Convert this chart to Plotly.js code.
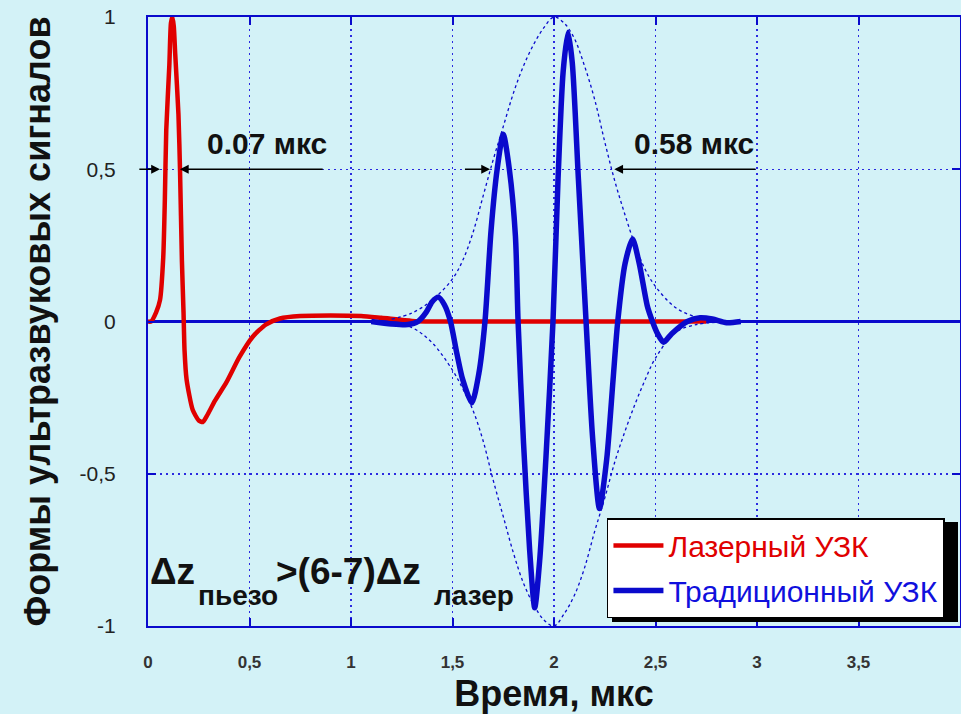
<!DOCTYPE html>
<html>
<head>
<meta charset="utf-8">
<script src="https://cdn.plot.ly/plotly-3.0.1.min.js"></script>
<style>html,body{margin:0;padding:0;background:#d3f2f7;}#chart{width:961px;height:714px;}</style>
</head>
<body>
<div id="chart"></div>
<script>
// Лазерный УЗК
const timeLaser = [0, 0.015, 0.04, 0.059, 0.075, 0.083, 0.09, 0.105, 0.113, 0.12, 0.127, 0.134, 0.15, 0.158, 0.167, 0.175, 0.18, 0.19, 0.22, 0.25, 0.27, 0.29, 0.33, 0.386, 0.45, 0.516, 0.58, 0.65, 0.75, 0.9, 1.05, 1.15, 1.3, 1.4, 2.0, 2.75];
const ampLaser  = [0, 0, 0.03, 0.07, 0.21, 0.40, 0.63, 0.84, 0.98, 1.0, 0.97, 0.88, 0.68, 0.49, 0.2, 0.03, -0.095, -0.19, -0.29, -0.325, -0.33, -0.31, -0.26, -0.20, -0.117, -0.05, -0.01, 0.01, 0.018, 0.02, 0.018, 0.012, 0.002, 0, 0, 0];
// Традиционный УЗК
const timeTrad = [1.1, 1.2, 1.28, 1.33, 1.37, 1.4, 1.43, 1.46, 1.49, 1.52, 1.55, 1.595, 1.63, 1.66, 1.69, 1.72, 1.75, 1.78, 1.81, 1.823, 1.85, 1.88, 1.905, 1.93, 1.96, 1.995, 2.02, 2.045, 2.069, 2.09, 2.12, 2.158, 2.19, 2.224, 2.26, 2.29, 2.314, 2.35, 2.387, 2.42, 2.46, 2.485, 2.51, 2.54, 2.58, 2.657, 2.72, 2.78, 2.85, 2.92];
const ampTrad  = [0, -0.008, -0.01, 0, 0.03, 0.065, 0.08, 0.055, 0, -0.1, -0.19, -0.267, -0.17, 0, 0.3, 0.5, 0.615, 0.5, 0.28, 0, -0.4, -0.75, -0.94, -0.78, -0.45, 0, 0.47, 0.82, 0.95, 0.85, 0.47, 0, -0.38, -0.614, -0.45, -0.2, 0, 0.19, 0.271, 0.19, 0.05, 0, -0.04, -0.068, -0.04, 0, 0.012, 0.008, -0.004, 0];
// Огибающая
const timeEnv  = [1.2, 1.3, 1.4, 1.5, 1.55, 1.6, 1.65, 1.7, 1.75, 1.8, 1.85, 1.9, 1.95, 2.0, 2.05, 2.1, 2.15, 2.2, 2.25, 2.3, 2.35, 2.4, 2.45, 2.5, 2.6, 2.7, 2.8];
const envUpper = [0.008, 0.028, 0.07, 0.14, 0.2, 0.29, 0.41, 0.53, 0.64, 0.75, 0.84, 0.91, 0.965, 1.0, 0.98, 0.93, 0.84, 0.73, 0.59, 0.46, 0.35, 0.25, 0.17, 0.115, 0.045, 0.015, 0.004];
const envLower = [-0.006, -0.02, -0.07, -0.16, -0.22, -0.29, -0.39, -0.52, -0.64, -0.76, -0.86, -0.93, -0.98, -1.0, -0.96, -0.9, -0.81, -0.69, -0.58, -0.46, -0.36, -0.27, -0.19, -0.12, -0.035, -0.01, -0.003];
// Оси
const xTickVals = [0, 0.5, 1, 1.5, 2, 2.5, 3, 3.5, 4];
const xTickText = ['0', '0,5', '1', '1,5', '2', '2,5', '3', '3,5', '4'];
const yTickVals = [-1, -0.5, 0, 0.5, 1];
const yTickText = ['-1', '-0,5', '0', '0,5', '1'];
// Ширина импульсов на полувысоте (мкс)
const widthLaser = [0.059, 0.157];
const widthTrad  = [1.685, 2.297];
const widthLabels = ['0.07 мкс', '0.58 мкс'];

const FONT = 'Liberation Sans, Arial, sans-serif';
const BLUE = '#0a0acc';
const RED = '#e00000';

const traces = [
  {x: timeLaser, y: ampLaser, type: 'scatter', mode: 'lines', name: '<span style="color:#e00000">Лазерный УЗК</span>',
   line: {color: RED, width: 4.5, shape: 'spline', smoothing: 0.6}, legendgroup: 'a'},
  {x: timeEnv, y: envUpper, type: 'scatter', mode: 'lines', showlegend: false,
   line: {color: BLUE, width: 1.3, dash: 'dot', shape: 'spline'}, hoverinfo: 'skip'},
  {x: timeEnv, y: envLower, type: 'scatter', mode: 'lines', showlegend: false,
   line: {color: BLUE, width: 1.3, dash: 'dot', shape: 'spline'}, hoverinfo: 'skip'},
  {x: timeTrad, y: ampTrad, type: 'scatter', mode: 'lines', name: '<span style="color:#1010dd">Традиционный УЗК</span>',
   line: {color: BLUE, width: 5.5, shape: 'spline', smoothing: 0.7}, legendgroup: 'b'}
];

function arrow(xHead, xTail) {
  return {x: xHead, y: 0.5, ax: xTail, ay: 0.5, xref: 'x', yref: 'y', axref: 'x', ayref: 'y',
    text: '', showarrow: true, arrowhead: 2, arrowsize: 1.1, arrowwidth: 1.6, arrowcolor: '#000', standoff: 0, startstandoff: 0};
}
function label(txt, x, y, size) {
  return {x: x, y: y, xref: 'x', yref: 'y', text: txt, showarrow: false, xanchor: 'left', yanchor: 'middle',
    font: {family: FONT, size: size, weight: 'bold', color: '#111'}};
}

const annotations = [
  arrow(widthLaser[0], -0.05),
  arrow(widthLaser[1], 0.868),
  arrow(widthTrad[0], 1.554),
  arrow(widthTrad[1], 3.0),
  label(widthLabels[0], 0.279, 0.585, 30),
  label(widthLabels[1], 2.382, 0.585, 30),
  label('\u0394z', 0.0, -0.822, 37),
  label('пьезо', 0.235, -0.9, 28),
  label('>(6-7)\u0394z', 0.62, -0.822, 37),
  label('лазер', 1.4, -0.9, 28)
];

const layout = {
  width: 961, height: 714,
  margin: {l: 148, r: 1, t: 17, b: 88},
  paper_bgcolor: '#d3f2f7', plot_bgcolor: '#d3f2f7',
  showlegend: true,
  legend: {x: 0.5652, y: 0.1773, xanchor: 'left', yanchor: 'top', bgcolor: '#ffffff', bordercolor: '#000', borderwidth: 1.5,
    font: {family: FONT, size: 30, color: '#000'}, traceorder: 'grouped', tracegroupgap: 3, itemwidth: 50},
  xaxis: {range: [0, 4], tickvals: xTickVals, ticktext: xTickText, showgrid: true, gridcolor: '#2a2ae0', griddash: '2px,4px', gridwidth: 1.5,
    zeroline: false, showline: true, linecolor: BLUE, linewidth: 2, mirror: 'ticks', ticks: 'inside', ticklen: 8, tickwidth: 2, tickcolor: BLUE,
    tickfont: {family: FONT, size: 17, weight: 'bold', color: '#333'}, ticklabelstandoff: 20,
    title: {text: 'Время, мкс\u00a0\u00a0\u00a0', font: {family: FONT, size: 36, weight: 'bold', color: '#111'}, standoff: 10}},
  yaxis: {range: [-1, 1], tickvals: yTickVals, ticktext: yTickText, showgrid: true, gridcolor: '#2a2ae0', griddash: '2px,4px', gridwidth: 1.5,
    zeroline: true, zerolinecolor: BLUE, zerolinewidth: 2.5, showline: true, linecolor: BLUE, linewidth: 2, mirror: 'ticks', ticks: 'inside', ticklen: 8, tickwidth: 2, tickcolor: BLUE,
    tickfont: {family: FONT, size: 21, color: '#222'}, ticklabelstandoff: 26,
    title: {text: '\u00a0\u00a0Формы ультразвуковых сигналов', font: {family: FONT, size: 36, weight: 'bold', color: '#111'}, standoff: 18}},
  annotations: annotations,
  shapes: [
    {type: 'rect', xref: 'paper', yref: 'paper', x0: (612 - 148) / 812, x1: (958 - 148) / 812, y0: (626 - 622) / 609, y1: (626 - 522) / 609,
     fillcolor: '#000', line: {width: 0}, layer: 'above'}
  ]
};

Plotly.newPlot('chart', traces, layout, {displayModeBar: false, staticPlot: true});
</script>
</body>
</html>
